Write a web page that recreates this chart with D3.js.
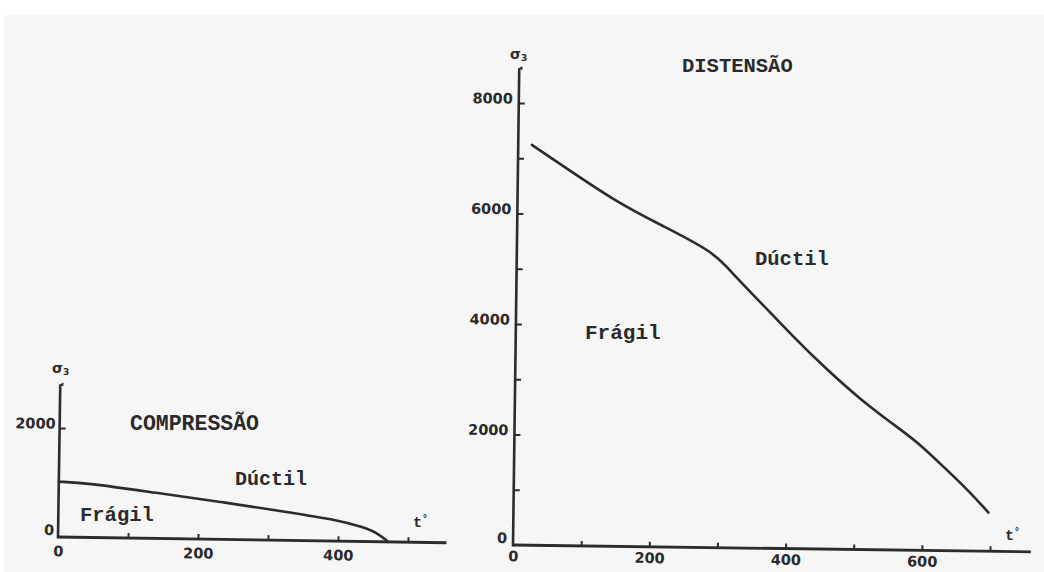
<!DOCTYPE html>
<html>
<head>
<meta charset="utf-8">
<script src="https://cdn.jsdelivr.net/npm/d3@7"></script>
<style>
  html, body { margin: 0; padding: 0; background: #ffffff; }
  svg { display: block; }
  .tick text { font-family: "DejaVu Sans", sans-serif; font-weight: bold; font-size: 14.5px; fill: #2a2a2a; }
  .note { font-family: "Liberation Mono", "DejaVu Sans Mono", monospace; font-weight: bold; fill: #2a2a2a; }
</style>
</head>
<body>
<script>
// Fragile/ductile transition: confining stress σ3 versus temperature t°

// Compression panel
const compTemp   = [0, 40, 140, 235, 330, 400, 435, 455, 472];
const compSigma  = [1015, 1000, 835, 685, 515, 385, 265, 170, 0];
const compTTicks  = [100, 200, 300, 400, 500];
const compTLabels = [0, 200, 400];
const compSTicks  = [2000];
const compSLabels = [0, 2000];

// Extension panel
const distTemp  = [20, 75, 145, 210, 290, 318, 358, 407, 457, 507, 556, 591, 630, 666, 697];
const distSigma = [7245, 6800, 6235, 5830, 5350, 4945, 4460, 3835, 3250, 2715, 2270, 1965, 1520, 1110, 700];
const distTTicks  = [100, 200, 300, 400, 500, 600, 700];
const distTLabels = [0, 200, 400, 600];
const distSTicks  = [1000, 2000, 3000, 4000, 5000, 6000, 7000, 8000];
const distSLabels = [0, 2000, 4000, 6000, 8000];
const fadedLabels = [2000, 4000, 6000];

const W = 1044, H = 572;
const ink = "#2c2c2c";

const svg = d3.select("body").append("svg")
  .attr("width", W).attr("height", H);

// paper
svg.append("rect").attr("x", 0).attr("y", 0).attr("width", W).attr("height", H).attr("fill", "#ffffff");
svg.append("rect").attr("x", 4).attr("y", 15).attr("width", W - 4).attr("height", H - 15).attr("fill", "#f6f6f6");

const defs = svg.append("defs");
defs.append("marker")
  .attr("id", "arrow").attr("viewBox", "0 0 10 10")
  .attr("refX", 5).attr("refY", 2).attr("markerWidth", 4).attr("markerHeight", 5)
  .attr("orient", "auto-start-reverse").attr("markerUnits", "userSpaceOnUse")
  .append("path").attr("d", "M0,10 L5,0 L10,10 Z").attr("fill", ink);

function panel(opt) {
  const x = d3.scaleLinear().domain([0, opt.tRef]).range([opt.ox, opt.ox + opt.tPx]);
  const y = d3.scaleLinear().domain([0, opt.sRef]).range([opt.oy, opt.oy - opt.sPx]);
  const g = svg.append("g").attr("transform", `rotate(${opt.rot},${opt.ox},${opt.oy})`);

  // tick marks (pointing into the plot)
  g.append("g").attr("transform", `translate(0,${y(0)})`)
    .call(d3.axisBottom(x).tickValues(opt.tTicks).tickSizeInner(-5).tickSizeOuter(0).tickFormat(""))
    .call(a => a.select(".domain").remove())
    .call(a => a.selectAll("line").attr("stroke", ink).attr("stroke-width", 2));
  g.append("g").attr("transform", `translate(${x(0)},0)`)
    .call(d3.axisLeft(y).tickValues(opt.sTicks).tickSizeInner(-6).tickSizeOuter(0).tickFormat(""))
    .call(a => a.select(".domain").remove())
    .call(a => a.selectAll("line").attr("stroke", ink).attr("stroke-width", 2));

  // tick labels
  g.append("g").attr("transform", `translate(0,${y(0)})`)
    .call(d3.axisBottom(x).tickValues(opt.tLabels).tickSize(0).tickPadding(opt.tPad).tickFormat(d3.format("d")))
    .call(a => a.select(".domain").remove());
  g.append("g").attr("transform", `translate(${x(0)},0)`)
    .call(d3.axisLeft(y).tickValues(opt.sLabels).tickSize(0).tickPadding(opt.sPad).tickFormat(d3.format("d")))
    .call(a => a.select(".domain").remove())
    .call(a => a.selectAll("text").attr("dy", d => d === 0 ? "-0.15em" : "0.02em")
      .attr("fill", d => opt.faded && opt.faded.includes(d) ? "#8c8c8c" : "#2a2a2a"));

  // axis lines
  g.append("line")
    .attr("x1", x(0)).attr("y1", y(0)).attr("x2", x(opt.tMax)).attr("y2", y(0))
    .attr("stroke", ink).attr("stroke-width", 2.8);
  g.append("line")
    .attr("x1", x(0)).attr("y1", y(0) + 1.4).attr("x2", x(0)).attr("y2", y(opt.sMax))
    .attr("stroke", ink).attr("stroke-width", 2.6).attr("marker-end", "url(#arrow)");

  // boundary curve
  const pts = opt.temp.map((t, i) => [t, opt.sigma[i]]);
  g.append("path")
    .attr("d", d3.line().x(d => x(d[0])).y(d => y(d[1])).curve(d3.curveBasis)(pts))
    .attr("fill", "none").attr("stroke", ink).attr("stroke-width", 2.6)
    .attr("stroke-linecap", "round");
  return g;
}

panel({
  ox: 58, oy: 537, rot: 0.85,
  tRef: 500, tPx: 350, sRef: 2000, sPx: 109,
  tMax: 555, sMax: 2800,
  tTicks: compTTicks, tLabels: compTLabels, tPad: 9,
  sTicks: compSTicks, sLabels: compSLabels, sPad: 4,
  temp: compTemp, sigma: compSigma
});

panel({
  ox: 513, oy: 545, rot: 0.75,
  tRef: 700, tPx: 477, sRef: 8000, sPx: 442,
  tMax: 760, sMax: 8630,
  tTicks: distTTicks, tLabels: distTLabels, tPad: 6,
  sTicks: distSTicks, sLabels: distSLabels, sPad: 6,
  faded: fadedLabels,
  temp: distTemp, sigma: distSigma
});

// region and panel names
function note(txt, x, y, size) {
  svg.append("text").attr("class", "note").attr("x", x).attr("y", y)
    .attr("font-size", size).text(txt);
}
note("COMPRESSÃO", 130, 430, 21.5);
note("Dúctil", 235, 485, 20);
note("Frágil", 80, 521, 20.5);
note("DISTENSÃO", 682, 72, 20.5);
note("Dúctil", 755, 265, 20.5);
note("Frágil", 585, 339, 21);

// axis names
function sigmaLabel(x, y) {
  const t = svg.append("text").attr("x", x).attr("y", y)
    .attr("font-family", "DejaVu Sans, sans-serif").attr("font-weight", "bold")
    .attr("font-size", 14).attr("fill", ink);
  t.append("tspan").text("σ");
  t.append("tspan").attr("font-size", 9).attr("dy", 2).text("3");
}
sigmaLabel(52, 373);
sigmaLabel(510, 59);

function tempLabel(x, y) {
  const t = svg.append("text").attr("class", "note").attr("x", x).attr("y", y)
    .attr("font-size", 15);
  t.append("tspan").text("t");
  t.append("tspan").attr("font-size", 10).attr("dy", -5).text("°");
}
tempLabel(413, 527);
tempLabel(1005, 540);
</script>
</body>
</html>
